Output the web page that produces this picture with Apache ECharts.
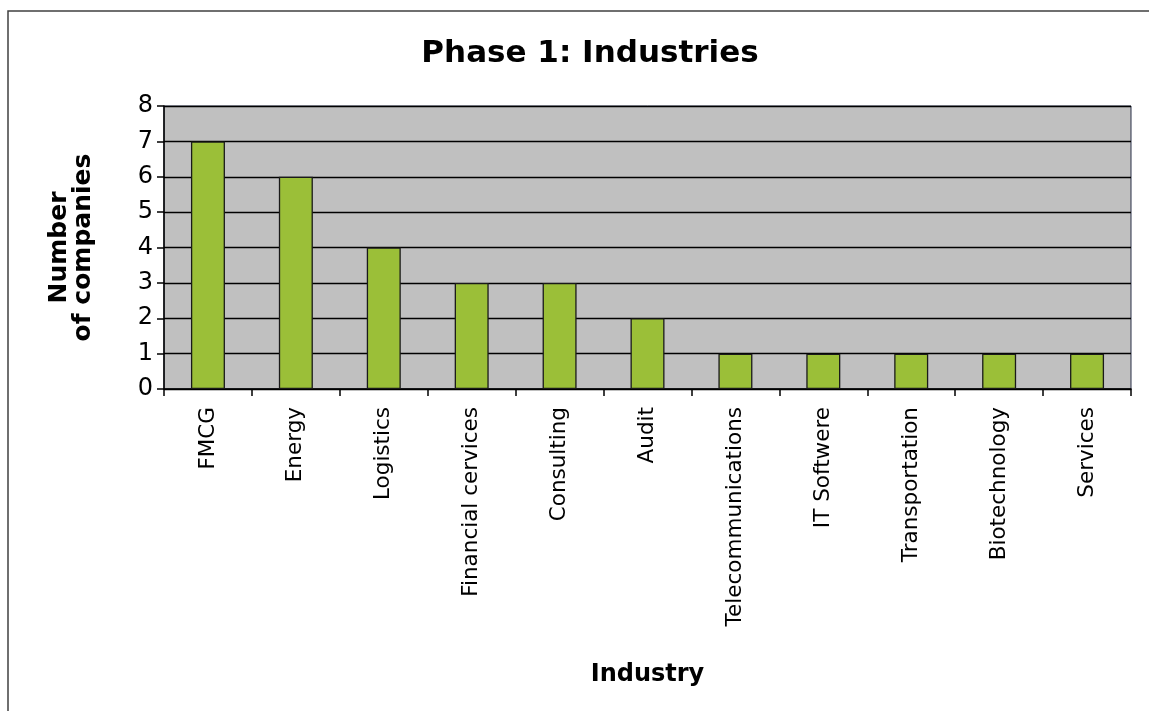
<!DOCTYPE html>
<html>
<head>
<meta charset="utf-8">
<script src="https://cdn.jsdelivr.net/npm/echarts@6/dist/echarts.min.js"></script>
<style>
html,body{margin:0;padding:0;background:#fff;}
#chart{width:1149px;height:711px;}
</style>
</head>
<body>
<div id="chart"></div>
<script>
const categories = ['FMCG','Energy','Logistics','Financial cervices','Consulting','Audit','Telecommunications','IT Softwere','Transportation','Biotechnology','Services'];
const companies = [7,6,4,3,3,2,1,1,1,1,1];
const titleText = 'Phase 1: Industries';
const yAxisTitle = 'Number\nof companies';
const xAxisTitle = 'Industry';

const FONT = '"DejaVu Sans", sans-serif';
const chart = echarts.init(document.getElementById('chart'), null, {renderer:'canvas'});
chart.setOption({
  backgroundColor:'#ffffff',
  animation:false,
  graphic:[{
    type:'rect', z:-10,
    shape:{x:8,y:11,width:1300,height:900},
    style:{fill:'none',stroke:'#404040',lineWidth:1.5}
  }],
  title:{
    text:titleText, left:585, top:33, textAlign:'center',
    textStyle:{fontFamily:FONT,fontWeight:'bold',fontSize:31,color:'#000'}
  },
  grid:{
    left:164, right:18, top:106, bottom:322,
    show:true, backgroundColor:'#C0C0C0', borderColor:'#2b3148', borderWidth:1,
    containLabel:false
  },
  xAxis:{
    type:'category', data:categories,
    name:xAxisTitle, nameLocation:'middle', nameGap:274,
    nameTextStyle:{fontFamily:FONT,fontWeight:'bold',fontSize:24,color:'#000'},
    axisLine:{show:true,lineStyle:{color:'#000',width:1.5}},
    axisTick:{show:true,length:7,lineStyle:{color:'#000',width:1.5}},
    axisLabel:{rotate:90,margin:18,interval:0,fontFamily:FONT,fontSize:21.5,color:'#000'},
    splitLine:{show:false}
  },
  yAxis:{
    type:'value', min:0, max:8, interval:1,
    name:yAxisTitle, nameLocation:'middle', nameRotate:90, nameGap:69,
    nameTextStyle:{fontFamily:FONT,fontWeight:'bold',fontSize:25,color:'#000',lineHeight:24,align:'center'},
    axisLine:{show:true,lineStyle:{color:'#000',width:1.5}},
    axisTick:{show:true,length:7,lineStyle:{color:'#000',width:1.5}},
    axisLabel:{margin:11,fontFamily:FONT,fontSize:24,color:'#000'},
    splitLine:{show:true,lineStyle:{color:'#000',width:1.3}}
  },
  series:[{
    type:'bar', data:companies, barWidth:34,
    itemStyle:{color:'#9BBF38',borderColor:'#1a1a1a',borderWidth:1.3}
  }]
});
</script>
</body>
</html>
